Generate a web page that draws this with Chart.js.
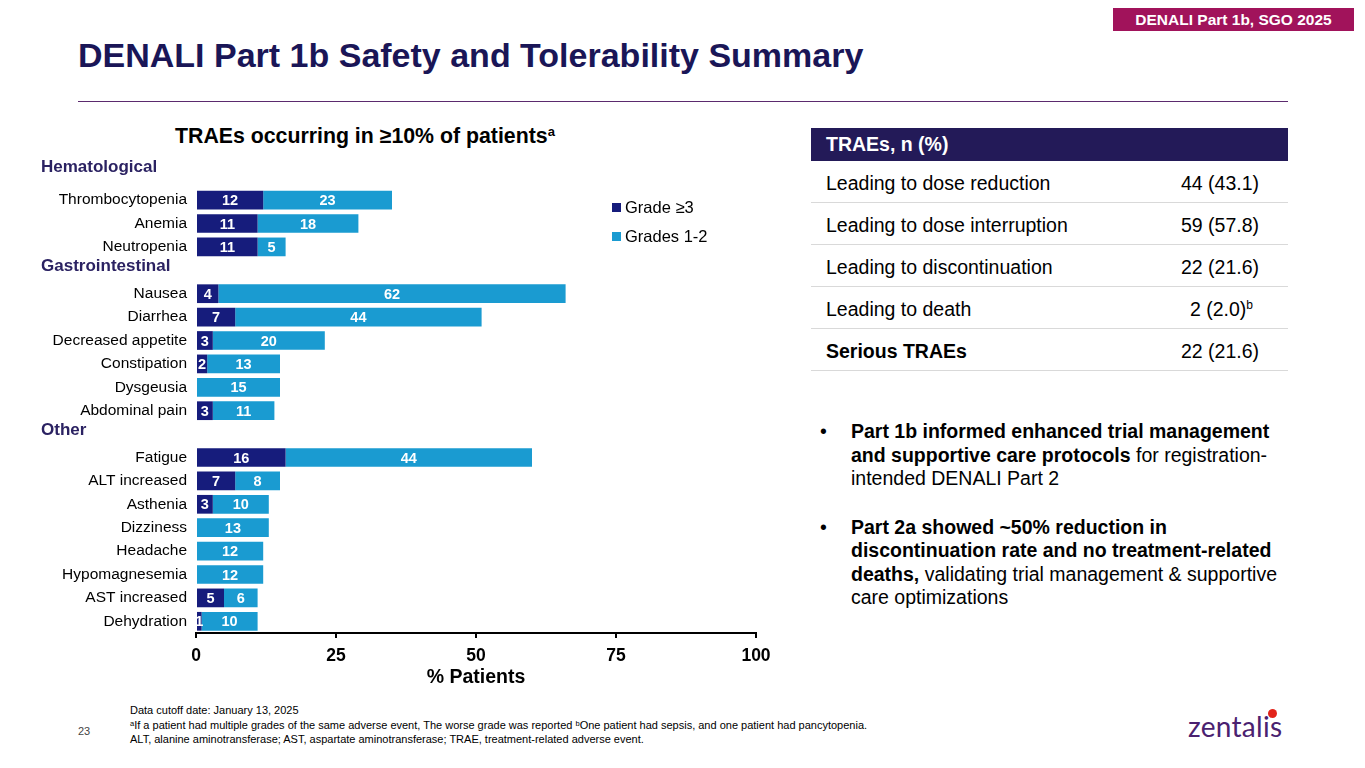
<!DOCTYPE html>
<html>
<head>
<meta charset="utf-8">
<script src="https://cdn.jsdelivr.net/npm/chart.js@4.4.1/dist/chart.umd.min.js"></script>
<style>
  html, body { margin:0; padding:0; background:#fff; }
  body { width:1365px; height:768px; position:relative; overflow:hidden; font-family:"Liberation Sans", Arial, sans-serif; color:#000; }
  .abs { position:absolute; }
  #title { left:78px; top:34px; font-size:34px; font-weight:bold; color:#1a1657; white-space:nowrap; line-height:42px; }
  #rule { left:78px; top:101px; width:1210px; height:1px; background:#5b2a6e; }
  #badge { left:1113px; top:8px; width:241px; height:23px; background:#a1135b; color:#fff; font-weight:bold; font-size:15.5px; line-height:23px; text-align:center; }
  #chartTitle { left:175px; top:123px; font-size:21.3px; font-weight:bold; line-height:26px; white-space:nowrap; }
  #chartTitle sup { font-size:13px; vertical-align:top; position:relative; top:-4px; }
  #chartBox { left:0; top:120px; width:790px; height:575px; }
  #legend { left:612px; top:193px; font-size:16.5px; }
  .lg { display:flex; align-items:center; height:29px; white-space:nowrap; }
  .lg i { display:inline-block; width:9px; height:9px; margin-right:4px; }
  #table { left:811px; top:128px; width:477px; border-collapse:collapse; font-size:19.5px; }
  #table th { background:#231a58; color:#fff; text-align:left; font-weight:bold; height:33px; padding:0 0 0 15px; }
  #table td { height:38px; border-bottom:1px solid #d9d9d9; padding:3px 0 0 0; }
  #table td.l { padding-left:15px; }
  #table td.r { text-align:right; padding-right:29px; }
  #table td.r.s { padding-right:35px; }
  #table sup { font-size:12px; vertical-align:super; line-height:0; }
  #bullets { left:820px; top:420px; width:470px; font-size:19.5px; line-height:23.5px; }
  .b { position:relative; padding-left:31px; margin-bottom:25px; }
  .b:before { content:"•"; position:absolute; left:0; top:0; }
  #footer { left:130px; top:703px; font-size:11px; line-height:14.5px; white-space:nowrap; }
  #footer sup { font-size:7.5px; vertical-align:top; position:relative; top:-1px; }
  #pagenum { left:78px; top:725px; font-size:11px; color:#444; }
  #logo { left:1188px; top:710px; font-family:Lato, "Noto Sans", sans-serif; font-size:28px; color:#4a2170; letter-spacing:0.3px; line-height:32px; }
  #dot { left:1268px; top:709px; width:9px; height:9px; border-radius:50%; background:#e2231a; }
</style>
</head>
<body>
<div id="badge" class="abs">DENALI Part 1b, SGO 2025</div>
<div id="title" class="abs">DENALI Part 1b Safety and Tolerability Summary</div>
<div id="rule" class="abs"></div>

<div id="chartTitle" class="abs">TRAEs occurring in ≥10% of patients<sup>a</sup></div>
<div id="chartBox" class="abs"><canvas id="c"></canvas></div>
<div id="legend" class="abs"></div>

<table id="table" class="abs">
  <tr><th colspan="2">TRAEs, n (%)</th></tr>
  <tr><td class="l">Leading to dose reduction</td><td class="r">44 (43.1)</td></tr>
  <tr><td class="l">Leading to dose interruption</td><td class="r">59 (57.8)</td></tr>
  <tr><td class="l">Leading to discontinuation</td><td class="r">22 (21.6)</td></tr>
  <tr><td class="l">Leading to death</td><td class="r s">2 (2.0)<sup>b</sup></td></tr>
  <tr><td class="l"><b>Serious TRAEs</b></td><td class="r">22 (21.6)</td></tr>
</table>

<div id="bullets" class="abs">
  <div class="b"><b>Part 1b informed enhanced trial management<br>and supportive care protocols</b> for registration-<br>intended DENALI Part 2</div>
  <div class="b"><b>Part 2a showed ~50% reduction in<br>discontinuation rate and no treatment-related<br>deaths,</b> validating trial management &amp; supportive<br>care optimizations</div>
</div>

<div id="pagenum" class="abs">23</div>
<div id="footer" class="abs">Data cutoff date: January 13, 2025<br><sup>a</sup>If a patient had multiple grades of the same adverse event, The worse grade was reported <sup>b</sup>One patient had sepsis, and one patient had pancytopenia.<br>ALT, alanine aminotransferase; AST, aspartate aminotransferase; TRAE, treatment-related adverse event.</div>
<div id="logo" class="abs">zentalis</div>
<div id="dot" class="abs"></div>

<script>
// ---- data ----
const groupHeaders = ['Hematological', 'Gastrointestinal', 'Other'];
const categories = [
  'Hematological', 'Thrombocytopenia', 'Anemia', 'Neutropenia',
  'Gastrointestinal', 'Nausea', 'Diarrhea', 'Decreased appetite', 'Constipation', 'Dysgeusia', 'Abdominal pain',
  'Other', 'Fatigue', 'ALT increased', 'Asthenia', 'Dizziness', 'Headache', 'Hypomagnesemia', 'AST increased', 'Dehydration'
];
const grade3 = [null, 12, 11, 11, null, 4, 7, 3, 2, 0, 3, null, 16, 7, 3, 0, 0, 0, 5, 1];
const grade12 = [null, 23, 18, 5, null, 62, 44, 20, 13, 15, 11, null, 44, 8, 10, 13, 12, 12, 6, 10];
const seriesNames = ['Grade ≥3', 'Grades 1-2'];
const seriesColors = ['#161c7c', '#1a9bd1'];
const xTicks = [0, 25, 50, 75, 100];
const xTitle = '% Patients';

const FONT = '"Liberation Sans", Arial, sans-serif';

const valueLabels = {
  id: 'valueLabels',
  afterDatasetsDraw(chart) {
    const ctx = chart.ctx;
    ctx.save();
    ctx.font = 'bold 14.5px ' + FONT;
    ctx.fillStyle = '#fff';
    ctx.textAlign = 'center';
    ctx.textBaseline = 'middle';
    chart.data.datasets.forEach((ds, di) => {
      const meta = chart.getDatasetMeta(di);
      meta.data.forEach((bar, i) => {
        const v = ds.data[i];
        if (v === null || v === 0) return;
        ctx.fillText(String(v), (bar.x + bar.base) / 2, bar.y + 1);
      });
    });
    ctx.restore();
  }
};

const groupLabels = {
  id: 'groupLabels',
  afterDraw(chart) {
    const ctx = chart.ctx;
    const ys = chart.scales.y;
    ctx.save();
    ctx.font = 'bold 17px ' + FONT;
    ctx.fillStyle = '#2b2262';
    ctx.textAlign = 'left';
    ctx.textBaseline = 'middle';
    categories.forEach((c, i) => {
      if (groupHeaders.includes(c)) {
        ctx.fillText(c, 41, ys.getPixelForValue(i) - (i === 0 ? 9 : 4));
      }
    });
    ctx.restore();
  }
};

const chart = new Chart(document.getElementById('c'), {
  type: 'bar',
  data: {
    labels: categories,
    datasets: [
      { label: seriesNames[0], data: grade3, backgroundColor: seriesColors[0], barPercentage: 0.8, categoryPercentage: 1 },
      { label: seriesNames[1], data: grade12, backgroundColor: seriesColors[1], barPercentage: 0.8, categoryPercentage: 1 }
    ]
  },
  options: {
    indexAxis: 'y',
    responsive: true,
    maintainAspectRatio: false,
    animation: false,
    layout: { padding: { top: 45, right: 34, left: 0, bottom: 0 } },
    plugins: { legend: { display: false }, tooltip: { enabled: false } },
    scales: {
      x: {
        stacked: true, min: 0, max: 100,
        afterBuildTicks: s => { s.ticks = xTicks.map(v => ({ value: v })); },
        afterFit: s => { s.height = 62; },
        grid: { display: true, drawOnChartArea: false, drawTicks: true, tickLength: 5, color: '#000', lineWidth: 2 },
        border: { display: true, color: '#000', width: 2 },
        ticks: { color: '#000', padding: 8, font: { family: FONT, size: 17.5, weight: 'bold' } },
        title: { display: true, text: xTitle, color: '#000', padding: { top: 0, bottom: 6 }, font: { family: FONT, size: 19.5, weight: 'bold' } }
      },
      y: {
        stacked: true,
        afterFit: s => { s.width = 196; },
        grid: { display: false, drawTicks: false },
        border: { display: false },
        ticks: {
          color: '#000', padding: 9, autoSkip: false,
          font: { family: FONT, size: 15.5 },
          callback: (v, i) => groupHeaders.includes(categories[i]) ? '' : categories[i]
        }
      }
    }
  },
  plugins: [valueLabels, groupLabels]
});

// HTML legend built from the datasets
const lg = document.getElementById('legend');
chart.data.datasets.forEach(ds => {
  const row = document.createElement('div');
  row.className = 'lg';
  const sw = document.createElement('i');
  sw.style.background = ds.backgroundColor;
  row.appendChild(sw);
  row.appendChild(document.createTextNode(ds.label));
  lg.appendChild(row);
});
</script>
</body>
</html>
